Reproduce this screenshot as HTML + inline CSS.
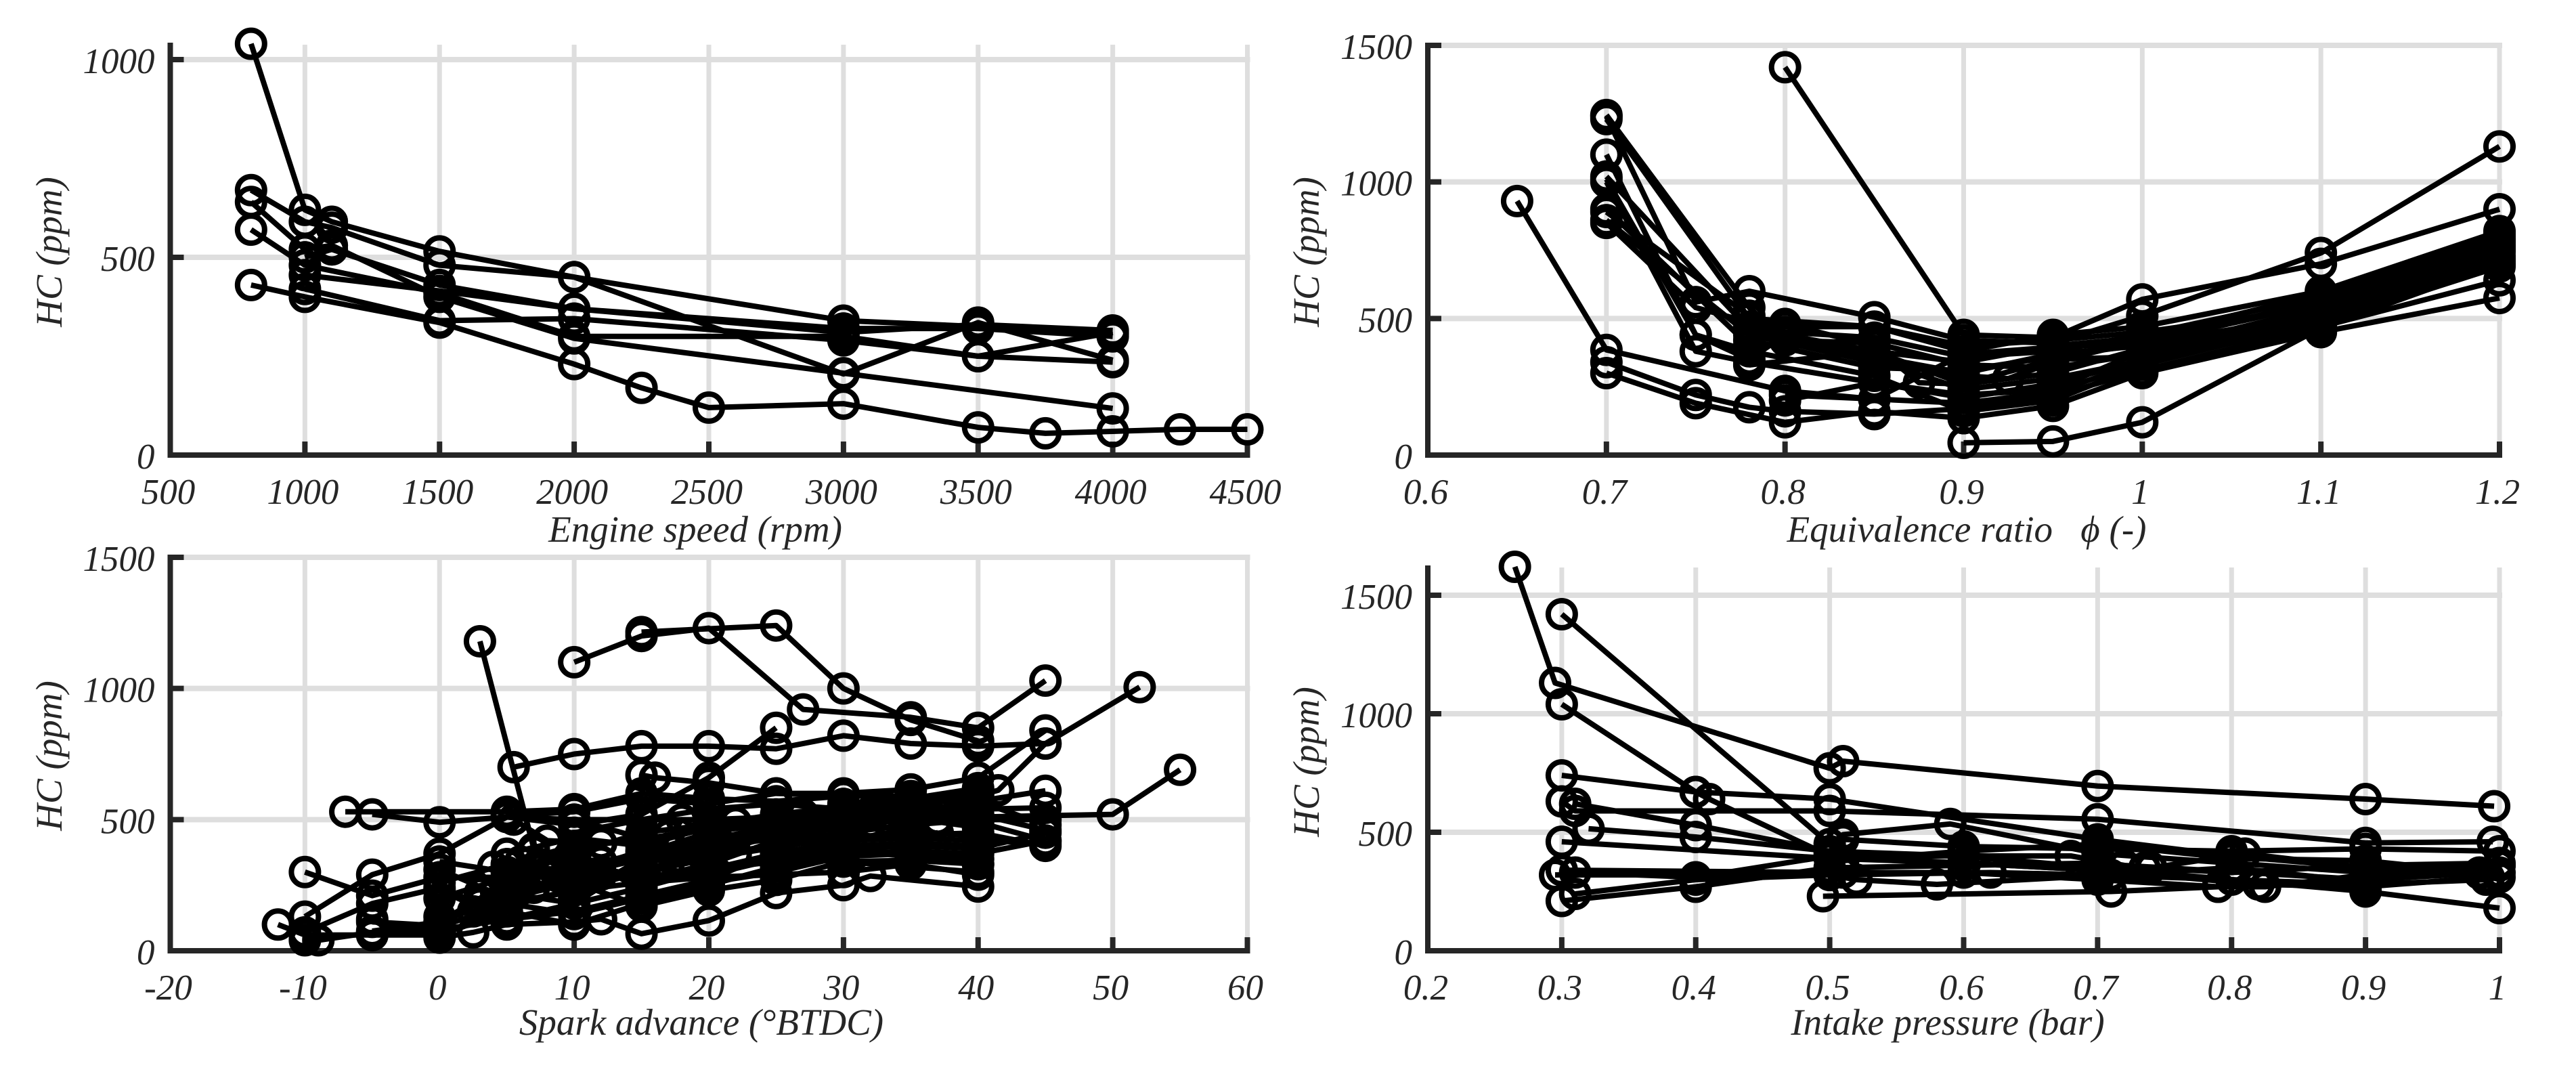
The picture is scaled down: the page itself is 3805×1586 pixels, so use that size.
<!DOCTYPE html>
<html lang="en">
<head>
<meta charset="utf-8">
<title>HC emissions versus engine parameters</title>
<style>
html,body{margin:0;padding:0;background:#fff;}
svg{display:block;}
text{font-family:"Liberation Serif",serif;font-style:italic;fill:#262626;}
.tick{font-size:53px;}
.title{font-size:55px;}
</style>
</head>
<body>
<svg id="chart" xmlns="http://www.w3.org/2000/svg" width="3805" height="1586" viewBox="0 0 3805 1586">
  <rect width="3805" height="1586" fill="#ffffff"/>
  <g id="panel-speed"></g>
  <g id="panel-phi"></g>
  <g id="panel-spark"></g>
  <g id="panel-pressure"></g>
  <text class="title" x="1027" y="800" text-anchor="middle">Engine speed (rpm)</text>
  <text class="title" x="2905" y="800" text-anchor="middle">Equivalence ratio &#160; <tspan>ϕ</tspan> (-)</text>
  <text class="title" x="1036" y="1528" text-anchor="middle">Spark advance (°BTDC)</text>
  <text class="title" x="2877" y="1528" text-anchor="middle">Intake pressure (bar)</text>
  <text class="title" transform="translate(91 372) rotate(-90)" text-anchor="middle">HC (ppm)</text>
  <text class="title" transform="translate(1948 372) rotate(-90)" text-anchor="middle">HC (ppm)</text>
  <text class="title" transform="translate(91 1116) rotate(-90)" text-anchor="middle">HC (ppm)</text>
  <text class="title" transform="translate(1948 1125) rotate(-90)" text-anchor="middle">HC (ppm)</text>
</svg>
<script>
// Tick labels
const speedXTicks = [500,1000,1500,2000,2500,3000,3500,4000,4500];
const speedYTicks = [0,500,1000];
const phiXTicks = [0.6,0.7,0.8,0.9,1,1.1,1.2];
const phiYTicks = [0,500,1000,1500];
const sparkXTicks = [-20,-10,0,10,20,30,40,50,60];
const sparkYTicks = [0,500,1000,1500];
const pressureXTicks = [0.2,0.3,0.4,0.5,0.6,0.7,0.8,0.9,1];
const pressureYTicks = [0,500,1000,1500];

// Series values: each series is a list of [x, HC ppm]
const speedSeries = [
  [[800,1040],[1000,620],[1100,590],[1500,515],[2000,450],[3000,340],[3500,325],[4000,305]],
  [[800,670],[1000,590],[1100,575],[1500,480],[2000,450],[3000,205],[3500,335],[4000,240]],
  [[1000,500],[1100,520],[1500,430],[2000,370],[3000,310],[3500,330],[4000,315]],
  [[1000,455],[1500,415],[2000,370],[3000,320],[3500,320],[4000,300]],
  [[800,640],[1000,520],[1100,530],[1500,400],[2000,295],[3000,207],[4000,118]],
  [[800,570],[1000,480],[1500,410],[2000,300],[3000,300],[3500,250],[4000,310]],
  [[1000,420],[1500,340],[2000,345],[3000,290],[3500,250],[4000,235]],
  [[800,430],[1000,400],[1500,335],[2000,230],[2250,170],[2500,120],[3000,130],[3500,70],[3750,55],[4000,60],[4250,65],[4500,65]]
];
const phiSeries = [
  [[0.65,930],[0.7,385],[0.8,235],[0.85,205],[0.9,190],[0.95,230],[1,340],[1.1,480],[1.2,690]],
  [[0.7,340],[0.75,220],[0.78,175],[0.8,160],[0.85,150],[0.9,170],[0.95,215],[1,310],[1.1,470],[1.2,640]],
  [[0.7,300],[0.75,190],[0.8,120],[0.85,160],[0.9,135],[0.95,180],[1,300],[1.1,450],[1.2,575]],
  [[0.8,1420],[0.9,440],[0.95,430],[1,570],[1.1,700],[1.2,900]],
  [[0.7,1240],[0.75,560],[0.78,600],[0.85,505],[0.9,420],[0.95,410],[1,510],[1.1,740],[1.2,1130]],
  [[0.7,1230],[0.78,500],[0.85,470],[0.9,380],[0.95,440],[1,470],[1.1,600],[1.2,820]],
  [[0.7,1100],[0.75,440],[0.78,350],[0.8,440],[0.85,380],[0.9,340],[0.95,400],[1,430],[1.1,590],[1.2,800]],
  [[0.7,1020],[0.78,460],[0.85,360],[0.9,300],[0.95,370],[1,400],[1.1,570],[1.2,780]],
  [[0.7,1000],[0.75,380],[0.78,340],[0.85,265],[0.9,220],[0.95,240],[1,380],[1.1,540],[1.2,760]],
  [[0.7,900],[0.78,400],[0.8,480],[0.85,400],[0.875,265],[0.9,260],[0.95,300],[1,390],[1.1,520],[1.2,730]],
  [[0.7,860],[0.78,440],[0.85,340],[0.9,290],[0.925,280],[0.95,340],[1,420],[1.1,560],[1.2,790]],
  [[0.7,850],[0.75,540],[0.8,450],[0.85,430],[0.9,360],[0.95,380],[1,440],[1.1,580],[1.2,810]],
  [[0.78,330],[0.85,380],[0.9,260],[0.95,350],[1,360],[1.1,510],[1.2,720]],
  [[0.8,200],[0.85,265],[0.9,210],[0.95,260],[1,350],[1.1,500],[1.2,700]],
  [[0.9,45],[0.95,50],[1,120],[1.1,465],[1.2,700]],
  [[0.7,890],[0.78,510],[0.8,470],[0.85,470],[0.9,400],[0.95,420],[1,450],[1.1,540],[1.2,760]],
  [[0.7,1245],[0.78,540],[0.8,420],[0.85,410],[0.9,330],[0.95,320],[1,370],[1.1,530],[1.2,770]],
  [[0.78,470],[0.8,430],[0.85,350],[0.9,240],[0.95,280],[1,345],[1.1,500],[1.2,745]],
  [[0.7,1010],[0.75,440],[0.78,380],[0.85,290],[0.9,160],[0.95,200],[1,330],[1.1,490],[1.2,710]],
  [[0.8,220],[0.85,205],[0.9,370],[0.95,395],[1,410],[1.1,555],[1.2,785]],
  [[0.78,420],[0.85,320],[0.9,310],[0.95,360],[1,405],[1.1,515],[1.2,750]]
];
const sparkSeries = [
  [[3,1180],[7,390],[10,350],[15,330],[20,420],[25,480],[30,540],[35,560],[40,590],[41.5,612],[45,790],[52,1005]],
  [[10,1100],[15,1200],[20,1230],[27,920],[35,890],[40,850],[45,1030]],
  [[15,1215],[25,1240],[30,1000],[35,880],[40,800]],
  [[5.5,700],[10,750],[15,780],[20,780],[25,770],[30,820],[35,790],[40,780],[45,790]],
  [[-7,530],[5,530],[10,540],[15,600],[20,580],[25,570],[30,590],[35,590],[40,570],[45,480]],
  [[-5,520],[0,490],[5,510],[10,500],[20,500],[30,520],[40,510],[50,520],[55,690]],
  [[-10,130],[-5,290],[0,370],[5,510],[10,480],[15,520],[20,660],[25,850]],
  [[15,670],[16,660],[20,640],[25,600],[30,600],[35,615],[40,660],[45,840]],
  [[-10,300],[-5,210],[0,280],[5,280],[10,330],[15,360],[20,400],[25,440],[30,480],[35,500],[40,570],[45,610]],
  [[-12,100],[-10,60],[-5,60],[0,80],[5,120],[10,180],[15,240],[20,310],[25,370],[30,420],[35,440],[40,450],[45,400]],
  [[-10,40],[-9,40],[-5,70],[0,90],[5,180],[10,230],[15,300],[20,350],[25,400],[30,450],[35,480],[40,500],[45,500]],
  [[-10,70],[-5,180],[0,240],[3,180],[5,260],[10,300],[15,380],[20,420],[25,480],[30,500],[35,530],[40,490],[45,420]],
  [[-5,120],[0,50],[2.5,70],[5,100],[10,110],[12,120],[15,65],[20,115],[25,220],[30,250],[32,285],[40,245]],
  [[0,310],[5,200],[10,260],[15,170],[20,230],[25,270],[30,340],[40,300]],
  [[0,260],[5,330],[10,280],[15,290],[18,500],[20,440],[25,510],[30,490],[33,550],[35,550],[40,540],[45,545]],
  [[-5,60],[0,60],[5,150],[10,100],[15,180],[20,250],[25,320],[30,370],[35,380],[40,370],[45,420]],
  [[0,200],[5,280],[10,370],[15,450],[20,480],[25,520],[30,550],[35,570],[40,600]],
  [[5,330],[10,400],[15,420],[20,370],[25,440],[30,420],[35,430],[40,420],[45,410]],
  [[5,240],[10,340],[15,280],[20,310],[25,340],[30,380],[35,360],[40,330]],
  [[0,130],[5,170],[10,230],[15,260],[20,280],[25,290],[30,300],[35,330],[40,290]],
  [[10,500],[15,430],[20,300],[25,360],[30,390],[35,400],[40,390],[45,450]],
  [[-5,75],[0,110],[6,290],[10,200],[15,350],[20,390],[25,430],[30,470],[33,520],[40,470]],
  [[10,450],[15,500],[20,540],[25,560],[30,540],[35,520],[40,580]],
  [[0,340],[5,300],[7,380],[10,280],[15,310],[20,360],[25,450],[30,410],[35,470],[40,560]],
  [[-5,110],[0,95],[5,250],[10,320],[15,270],[20,330],[25,420],[30,440],[35,520],[40,520],[45,460]],
  [[0,230],[5,120],[10,150],[15,210],[20,270],[25,380],[30,400],[35,410],[40,400]],
  [[5,220],[10,180],[15,340],[20,370],[25,400],[30,480],[35,500],[40,480]],
  [[5,300],[10,380],[15,230],[20,420],[25,470],[30,430],[35,450],[40,440]],
  [[5,180],[10,140],[15,200],[20,260],[25,300],[30,360],[35,370],[40,350]],
  [[5,260],[10,250],[15,320],[20,290],[25,350],[30,340],[35,345],[40,330]],
  [[2.5,150],[5,210],[10,300],[15,370],[20,450],[25,490],[30,510],[35,540]],
  [[5,370],[10,430],[15,400],[20,470],[25,500],[30,560],[35,580],[40,620]],
  [[6,340],[10,290],[15,350],[20,330],[25,420],[30,520],[35,560],[40,580]],
  [[5,515],[10,530],[15,580],[20,560],[25,600],[30,590]],
  [[4,320],[8,300],[12,340],[17,390],[22,430],[27,470],[32,490],[37,500]],
  [[3,220],[7,240],[12,290],[17,330],[22,370],[27,410],[32,430],[37,450]],
  [[5.5,500],[8,420],[12,410],[17,440],[22,490],[27,520],[32,530]]
];
const pressureSeries = [
  [[0.265,1620],[0.295,1130],[0.5,770],[0.51,800],[0.7,695],[0.9,640],[0.996,610]],
  [[0.3,1420],[0.5,450],[0.51,490],[0.59,535],[0.7,410],[0.9,330],[1,330]],
  [[0.3,1040],[0.4,670],[0.41,640],[0.5,400],[0.7,340],[0.74,350],[0.81,410],[0.9,350],[1,310]],
  [[0.3,740],[0.4,670],[0.5,640],[0.7,470],[0.8,400],[0.9,350],[1,360]],
  [[0.3,630],[0.31,590],[0.5,590],[0.7,555],[0.9,455],[0.995,460]],
  [[0.31,620],[0.4,530],[0.5,420],[0.6,400],[0.7,350],[0.9,250],[1,180]],
  [[0.32,515],[0.4,480],[0.5,420],[0.51,470],[0.6,440],[0.7,430],[0.8,420],[0.9,430],[1,420]],
  [[0.3,460],[0.5,390],[0.6,370],[0.7,340],[0.82,280],[0.9,270],[0.992,310]],
  [[0.3,340],[0.51,330],[0.6,330],[0.7,300],[0.79,270],[0.9,300],[0.985,326]],
  [[0.31,330],[0.4,310],[0.5,400],[0.68,400],[0.72,360],[0.9,300],[1,360]],
  [[0.295,320],[0.5,320],[0.52,300],[0.58,280],[0.71,320],[0.8,350],[0.9,290]],
  [[0.31,240],[0.4,300],[0.5,320],[0.62,330],[0.7,320],[0.8,300],[0.9,280],[0.99,300]],
  [[0.3,210],[0.4,270],[0.5,350],[0.6,360],[0.7,370],[0.735,350],[0.8,330],[0.9,360],[1,370]],
  [[0.495,230],[0.71,250],[0.79,270],[0.825,270],[0.9,320]],
  [[0.51,380],[0.6,420],[0.7,450],[0.8,390],[0.9,380],[0.985,330]]
];

const SVG_NS = 'http://www.w3.org/2000/svg';
const AXIS_COLOR = '#262626';
const GRID_COLOR = '#dedede';
const MARK_COLOR = '#000000';

function makeLinear(d0, d1, r0, r1) {
  return function (v) { return r0 + (v - d0) * (r1 - r0) / (d1 - d0); };
}
function makeEl(tag, attrs) {
  const el = document.createElementNS(SVG_NS, tag);
  Object.keys(attrs).forEach(function (k) { el.setAttribute(k, attrs[k]); });
  return el;
}
function drawPanel(id, cfg, xTicks, yTicks, series) {
  const g = document.getElementById(id);
  const xScale = makeLinear(cfg.xMin, cfg.xMax, cfg.left, cfg.right);
  const yScale = makeLinear(0, cfg.yRef, cfg.bottom, cfg.yRefPx);

  xTicks.forEach(function (t) {
    if (t === cfg.xMin) return;
    const x = xScale(t);
    const grid = makeEl('line', {x1:x, x2:x, y1:cfg.bottom, y2:cfg.gridTop, stroke:GRID_COLOR, 'stroke-width':7});
    
    
    g.appendChild(grid);
  });
  yTicks.forEach(function (t) {
    if (t === 0) return;
    const y = yScale(t);
    const grid = makeEl('line', {x1:cfg.left, x2:cfg.right + 4, y1:y, y2:y, stroke:GRID_COLOR, 'stroke-width':8});
    
    
    g.appendChild(grid);
  });

  const yAxis = makeEl('line', {x1:cfg.left, x2:cfg.left, y1:cfg.bottom + 4, y2:cfg.axisTop, stroke:AXIS_COLOR, 'stroke-width':8});
  
  
  g.appendChild(yAxis);
  const xAxis = makeEl('line', {x1:cfg.left - 4, x2:cfg.right + 4, y1:cfg.bottom, y2:cfg.bottom, stroke:AXIS_COLOR, 'stroke-width':8});
  
  
  g.appendChild(xAxis);

  xTicks.forEach(function (t) {
    const x = xScale(t);
    if (t !== cfg.xMin) {
      const tick = makeEl('line', {x1:x, x2:x, y1:cfg.bottom, y2:cfg.bottom - 20, stroke:AXIS_COLOR, 'stroke-width':8});
      
      
      g.appendChild(tick);
    }
    const label = makeEl('text', {class:'tick', x:x - 3, y:cfg.bottom + 72, 'text-anchor':'middle'});
    label.textContent = String(t);
    
    
    g.appendChild(label);
  });
  yTicks.forEach(function (t) {
    const y = yScale(t);
    if (t !== 0) {
      const tick = makeEl('line', {x1:cfg.left, x2:cfg.left + 20, y1:y, y2:y, stroke:AXIS_COLOR, 'stroke-width':8});
      
      
      g.appendChild(tick);
    }
    const label = makeEl('text', {class:'tick', x:cfg.left - 23, y:y + 20, 'text-anchor':'end'});
    label.textContent = String(t);
    
    
    g.appendChild(label);
  });

  series.forEach(function (pts) {
    const sg = makeEl('g', {});
    
    
    const path = makeEl('polyline', {
      points: pts.map(function (p) { return xScale(p[0]) + ',' + yScale(p[1]); }).join(' '),
      fill: 'none', stroke: MARK_COLOR, 'stroke-width': 8, 'stroke-linejoin': 'round'
    });
    
    
    sg.appendChild(path);
    pts.forEach(function (p) {
      const dot = makeEl('circle', {cx:xScale(p[0]), cy:yScale(p[1]), r:20, fill:'none', stroke:MARK_COLOR, 'stroke-width':8});
      
      
      sg.appendChild(dot);
    });
    g.appendChild(sg);
  });
}

drawPanel('panel-speed', {xMin:500, xMax:4500, left:251.5, right:1842.5, bottom:672, yRef:1000, yRefPx:88, axisTop:63, gridTop:66}, speedXTicks, speedYTicks, speedSeries);
drawPanel('panel-phi', {xMin:0.6, xMax:1.2, left:2109, right:3692, bottom:672, yRef:1500, yRefPx:67, axisTop:63, gridTop:67}, phiXTicks, phiYTicks, phiSeries);
drawPanel('panel-spark', {xMin:-20, xMax:60, left:251.5, right:1842.5, bottom:1404, yRef:1500, yRefPx:823, axisTop:819, gridTop:823}, sparkXTicks, sparkYTicks, sparkSeries);
drawPanel('panel-pressure', {xMin:0.2, xMax:1, left:2109, right:3692, bottom:1404, yRef:1500, yRefPx:879, axisTop:835, gridTop:838}, pressureXTicks, pressureYTicks, pressureSeries);
</script>
</body>
</html>
